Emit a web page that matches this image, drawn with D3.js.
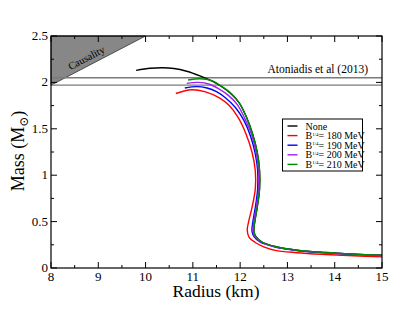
<!DOCTYPE html>
<html>
<head>
<meta charset="utf-8">
<script src="https://cdn.jsdelivr.net/npm/d3@7"></script>
<style>
  body { margin: 0; background: #fff; }
  svg text { font-family: "Liberation Serif", "Times New Roman", "DejaVu Serif", serif; }
</style>
</head>
<body>
<svg id="chart" width="415" height="312"></svg>
<script>
// ---- data (radius km, mass Msun) ----
var xTicks = [8, 9, 10, 11, 12, 13, 14, 15]
var yTicks = [0, 0.5, 1, 1.5, 2, 2.5]
var yTickLabels = ["0", "0.5", "1", "1.5", "2", "2.5"]

var seriesNames = ["None", "180", "190", "200", "210"]
var seriesColors = ["#000000", "#ff0000", "#0000ff", "#a020f0", "#008a00"]

var curveNone = [[9.80,2.13],[10.1,2.152],[10.35,2.158],[10.6,2.15],[10.87,2.12],[11.15,2.07],[11.42,2.01],[11.62,1.95],[11.8,1.88],[11.98,1.78],[12.13,1.63],[12.26,1.45],[12.36,1.25],[12.41,1.05],[12.41,0.85],[12.36,0.65],[12.31,0.50],[12.29,0.40],[12.33,0.34],[12.46,0.28],[12.74,0.232],[13.2,0.192],[13.8,0.167],[14.4,0.15],[15.0,0.137]]
var curve180 = [[10.64,1.88],[10.97,1.92],[11.25,1.90],[11.57,1.83],[11.77,1.75],[11.96,1.62],[12.12,1.45],[12.25,1.25],[12.32,1.05],[12.32,0.85],[12.25,0.65],[12.18,0.50],[12.15,0.41],[12.19,0.33],[12.32,0.275],[12.5,0.228],[12.74,0.19],[13.2,0.165],[13.8,0.146],[14.4,0.132],[15.0,0.12]]
var curve190 = [[10.83,1.94],[11.08,1.955],[11.3,1.94],[11.5,1.90],[11.7,1.83],[11.9,1.73],[12.08,1.59],[12.22,1.42],[12.32,1.23],[12.37,1.05],[12.37,0.85],[12.32,0.65],[12.27,0.50],[12.25,0.40],[12.29,0.34],[12.42,0.28],[12.72,0.228],[13.2,0.188],[13.8,0.163],[14.4,0.147],[15.0,0.133]]
var curve200 = [[10.87,1.99],[11.12,2.0],[11.35,1.98],[11.55,1.93],[11.75,1.86],[11.94,1.76],[12.1,1.61],[12.24,1.44],[12.34,1.24],[12.39,1.05],[12.39,0.85],[12.34,0.65],[12.29,0.50],[12.27,0.40],[12.31,0.34],[12.44,0.28],[12.73,0.23],[13.2,0.19],[13.8,0.165],[14.4,0.149],[15.0,0.135]]
var curve210 = [[10.90,2.026],[11.15,2.04],[11.4,2.02],[11.6,1.96],[11.8,1.885],[11.98,1.78],[12.13,1.63],[12.26,1.45],[12.36,1.25],[12.41,1.05],[12.41,0.85],[12.36,0.65],[12.31,0.50],[12.29,0.40],[12.33,0.34],[12.46,0.28],[12.74,0.232],[13.2,0.192],[13.8,0.167],[14.4,0.15],[15.0,0.137]]
var allCurves = [curveNone, curve180, curve190, curve200, curve210]

var antoniadis = [1.97, 2.05]          // 2.01 +- 0.04
var causality = [[8, 1.97], [10, 2.5], [8, 2.5]]

// ---- layout ----
var svg = d3.select("#chart")
var pL = 51, pR = 382, pT = 36, pB = 268

var x = d3.scaleLinear().domain([8, 15]).range([pL, pR])
var y = d3.scaleLinear().domain([0, 2.5]).range([pB, pT])

// causality region
svg.append("path")
    .attr("d", d3.line().x(d => x(d[0])).y(d => y(d[1]))(causality) + "Z")
    .attr("fill", "#878787")
    .attr("stroke", "#333")
    .attr("stroke-width", 0.8)

svg.append("text")
    .attr("transform", "translate(88,61)rotate(-27.5)")
    .attr("text-anchor", "middle")
    .style("font-size", "10.5px")
    .text("Causality")

// Antoniadis band lines
svg.selectAll(".band")
    .data(antoniadis)
    .enter().append("line")
    .attr("x1", x(8)).attr("x2", x(15))
    .attr("y1", d => y(d)).attr("y2", d => y(d))
    .attr("stroke", "#7a7a7a")
    .attr("stroke-width", 1.3)

svg.append("text")
    .attr("x", 368).attr("y", 73)
    .attr("text-anchor", "end")
    .style("font-size", "11.5px")
    .text("Atoniadis et al (2013)")

// curves
var line = d3.line().x(d => x(d[0])).y(d => y(d[1])).curve(d3.curveCatmullRom.alpha(0.5))
svg.append("g").selectAll("path")
    .data(allCurves)
    .enter().append("path")
    .attr("d", line)
    .attr("fill", "none")
    .attr("stroke", (d, i) => seriesColors[i])
    .attr("stroke-width", 1.4)

// frame + ticks
svg.append("rect")
    .attr("x", pL).attr("y", pT)
    .attr("width", pR - pL).attr("height", pB - pT)
    .attr("fill", "none").attr("stroke", "#000").attr("stroke-width", 1.2)

var ticks = svg.append("g").attr("stroke", "#000").attr("stroke-width", 1)
d3.range(8, 15.01, 0.5).forEach(function(v) {
    var len = (v % 1 === 0) ? 6 : 3
    ticks.append("line").attr("x1", x(v)).attr("x2", x(v)).attr("y1", pB).attr("y2", pB - len)
    ticks.append("line").attr("x1", x(v)).attr("x2", x(v)).attr("y1", pT).attr("y2", pT + len)
})
d3.range(0, 2.51, 0.25).forEach(function(v) {
    var len = (Math.abs(v * 2 - Math.round(v * 2)) < 1e-6) ? 6 : 3
    ticks.append("line").attr("y1", y(v)).attr("y2", y(v)).attr("x1", pL).attr("x2", pL + len)
    ticks.append("line").attr("y1", y(v)).attr("y2", y(v)).attr("x1", pR).attr("x2", pR - len)
})

svg.append("g").selectAll("text")
    .data(xTicks)
    .enter().append("text")
    .attr("x", d => x(d)).attr("y", pB + 12.5)
    .attr("text-anchor", "middle")
    .style("font-size", "13px")
    .text(d => d)

svg.append("g").selectAll("text")
    .data(yTicks)
    .enter().append("text")
    .attr("x", pL - 3).attr("y", d => y(d) + 4)
    .attr("text-anchor", "end")
    .style("font-size", "13px")
    .text((d, i) => yTickLabels[i])

// axis titles
svg.append("text")
    .attr("x", 216).attr("y", 297)
    .attr("text-anchor", "middle")
    .style("font-size", "17.5px")
    .text("Radius (km)")

var ylab = svg.append("text")
    .attr("transform", "translate(24,151)rotate(-90)")
    .attr("text-anchor", "middle")
    .style("font-size", "18px")
ylab.append("tspan").text("Mass (M")
ylab.append("tspan").attr("dy", 4).style("font-size", "12px").text("\u2299")
ylab.append("tspan").attr("dy", -4).text(")")

// legend
var lg = svg.append("g").attr("transform", "translate(282.5,119)")
lg.append("rect").attr("width", 80).attr("height", 52)
    .attr("fill", "#fff").attr("stroke", "#000").attr("stroke-width", 1)
var rows = lg.selectAll("g.row")
    .data(seriesNames)
    .enter().append("g")
    .attr("transform", (d, i) => "translate(0," + (7 + i * 9.6) + ")")
rows.append("line")
    .attr("x1", 5).attr("x2", 15)
    .attr("stroke", (d, i) => seriesColors[i]).attr("stroke-width", 1.4)
var rt = rows.append("text")
    .attr("x", 23).attr("y", 3.5)
    .style("font-size", "10px")
rt.each(function(d) {
    var t = d3.select(this)
    if (d === "None") { t.text("None"); return }
    t.append("tspan").text("B")
    t.append("tspan").attr("dy", -3.5).style("font-size", "5px").text("1/4")
    t.append("tspan").attr("dy", 3.5).text("= " + d + " MeV")
})
</script>
</body>
</html>
